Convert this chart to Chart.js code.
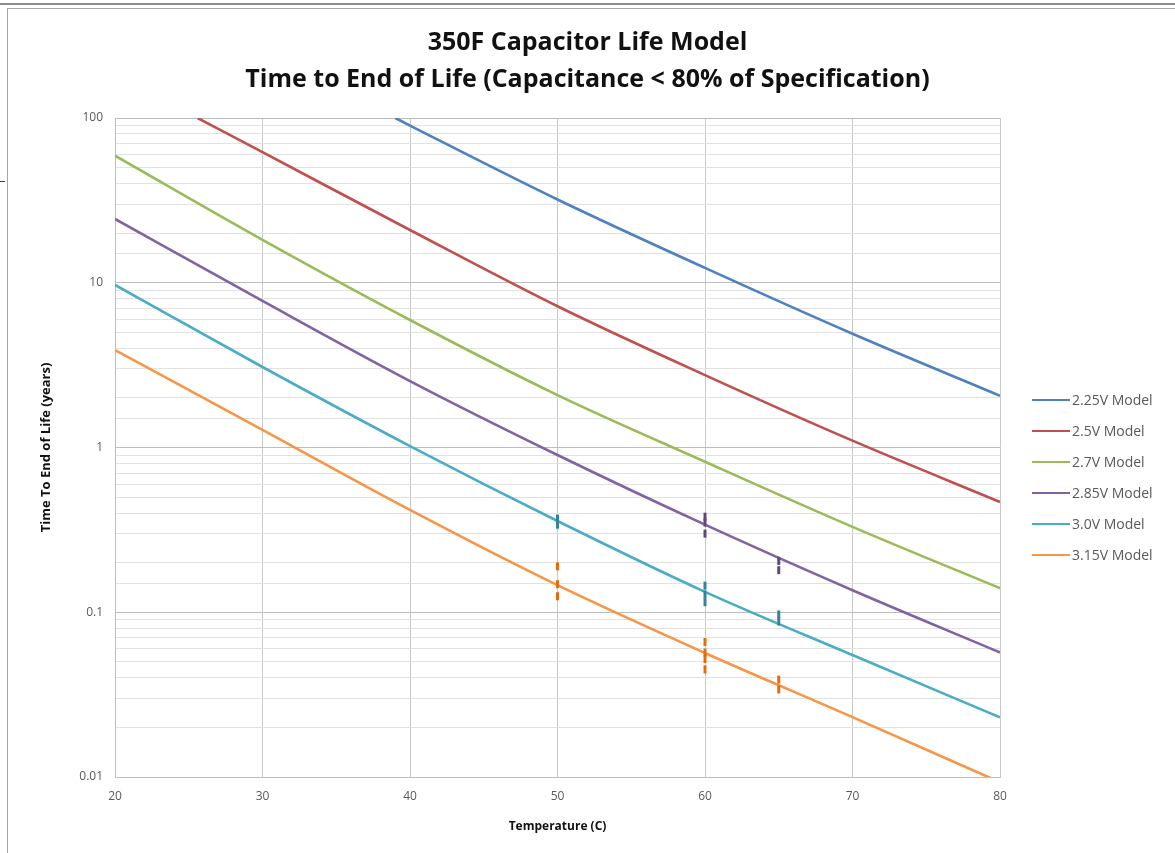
<!DOCTYPE html>
<html>
<head>
<meta charset="utf-8">
<title>350F Capacitor Life Model</title>
<script src="https://cdn.jsdelivr.net/npm/chart.js@4.4.1/dist/chart.umd.min.js"></script>
<style>
body { margin: 0; background: #fff; font-family: "Open Sans", sans-serif; }
#wrap { position: relative; width: 1175px; height: 853px; overflow: hidden; background: #fff; }
#frameTop { position: absolute; left: 0; top: 3px; width: 1175px; height: 2px; background: #8c8c8c; }
#frame { position: absolute; left: 7px; top: 8px; width: 1200px; height: 900px; border-left: 1px solid #a6a6a6; border-top: 1px solid #a6a6a6; }
#mark { position: absolute; left: 0; top: 181px; width: 5px; height: 1px; background: #444; }
#chartBox { position: absolute; left: 0; top: 0; width: 1175px; height: 853px; }
#legend { position: absolute; left: 1032px; top: 384px; font-size: 14px; color: #595959; }
.item { height: 31px; display: flex; align-items: center; white-space: nowrap; }
.swatch { width: 38px; height: 2px; margin-right: 2px; }
</style>
</head>
<body>
<div id="wrap">
  <div id="frameTop"></div>
  <div id="frame"></div>
  <div id="mark"></div>
  <div id="chartBox"><canvas id="lifeChart"></canvas></div>
  <div id="legend"></div>
</div>
<script>
// Model curves (temperature C -> years)
const temps225 = [39, 40, 50, 60, 70, 80];
const life225  = [100, 90, 32, 12.3, 4.9, 2.06];

const temps25 = [25.6, 30, 40, 50, 60, 70, 80];
const life25  = [100, 62, 20.9, 7.2, 2.75, 1.1, 0.467];

const temps = [20, 30, 40, 50, 60, 70, 80];
const life27  = [59, 18.2, 5.94, 2.08, 0.82, 0.33, 0.14];
const life285 = [24.4, 7.75, 2.53, 0.9, 0.34, 0.136, 0.057];
const life30  = [9.7, 3.08, 1.02, 0.358, 0.133, 0.055, 0.023];
const life315 = [3.9, 1.28, 0.418, 0.146, 0.0566, 0.0231, 0.0093];

// Test data marks
const test30Temps = [50, 50, 60, 60, 60, 65, 65];
const test30Life  = [0.37, 0.34, 0.145, 0.128, 0.115, 0.097, 0.088];
const test285Temps = [60, 60, 60, 65, 65];
const test285Life  = [0.38, 0.35, 0.30, 0.205, 0.18];
const test315Temps = [50, 50, 50, 60, 60, 60, 60, 65, 65];
const test315Life  = [0.19, 0.148, 0.125, 0.066, 0.057, 0.052, 0.045, 0.039, 0.034];

const modelNames = ["2.25V Model", "2.5V Model", "2.7V Model", "2.85V Model", "3.0V Model", "3.15V Model"];
const modelColors = ["#4f81bd", "#c0504d", "#9bbb59", "#8064a2", "#4bacc6", "#f79646"];

const xTicks = [20, 30, 40, 50, 60, 70, 80];

function pts(xs, ys) {
    return xs.map((x, i) => ({ x: x, y: ys[i] }));
}

function isDecade(v) {
    const l = Math.log10(v);
    return Math.abs(l - Math.round(l)) < 1e-6;
}

const modelData = [
    pts(temps225, life225),
    pts(temps25, life25),
    pts(temps, life27),
    pts(temps, life285),
    pts(temps, life30),
    pts(temps, life315)
];

const datasets = modelData.map((d, i) => ({
    label: modelNames[i],
    data: d,
    showLine: true,
    borderColor: modelColors[i],
    backgroundColor: modelColors[i],
    borderWidth: 2.6,
    pointRadius: 0,
    cubicInterpolationMode: "monotone",
    order: 1
}));

function marks(xs, ys, color) {
    return {
        label: "test",
        data: pts(xs, ys),
        showLine: false,
        pointStyle: "line",
        rotation: 90,
        pointRadius: 4,
        borderWidth: 3,
        borderColor: color,
        backgroundColor: color,
        order: 0
    };
}

datasets.push(marks(test30Temps, test30Life, "#31849b"));
datasets.push(marks(test285Temps, test285Life, "#5f497a"));
datasets.push(marks(test315Temps, test315Life, "#e46c0a"));

new Chart(document.getElementById("lifeChart"), {
    type: "scatter",
    data: { datasets },
    options: {
        responsive: true,
        maintainAspectRatio: false,
        animation: false,
        layout: { padding: 0 },
        plugins: {
            legend: { display: false },
            tooltip: { enabled: false },
            title: {
                display: true,
                text: ["350F Capacitor Life Model", "Time to End of Life (Capacitance < 80% of Specification)"],
                color: "#111",
                font: { family: "Open Sans", size: 25, weight: "bold", lineHeight: 37 / 25 },
                padding: { top: 24, bottom: 20 }
            }
        },
        scales: {
            x: {
                type: "linear",
                min: 20,
                max: 80,
                afterBuildTicks: (scale) => { scale.ticks = xTicks.map(v => ({ value: v })); },
                afterFit: (scale) => { scale.height = 76; },
                border: { color: "#bfbfbf" },
                grid: { color: "#c8c8c8", drawTicks: false },
                ticks: {
                    color: "#595959",
                    font: { family: "Open Sans", size: 12 },
                    padding: 12
                },
                title: {
                    display: true,
                    text: "Temperature (C)",
                    color: "#111",
                    font: { family: "Open Sans", size: 12, weight: "bold" },
                    padding: { top: 0, bottom: 19 }
                }
            },
            y: {
                type: "logarithmic",
                min: 0.01,
                max: 100,
                afterFit: (scale) => { scale.width = 115; },
                border: { color: "#bfbfbf" },
                grid: {
                    drawTicks: false,
                    color: (ctx) => (ctx.tick && isDecade(ctx.tick.value)) ? "#bdbdbd" : "#e2e2e2"
                },
                ticks: {
                    autoSkip: false,
                    color: "#595959",
                    font: { family: "Open Sans", size: 12 },
                    padding: 12,
                    callback: (v) => isDecade(v) ? String(Number(v.toPrecision(3))) : ""
                },
                title: {
                    display: true,
                    text: "Time To End of Life (years)",
                    color: "#111",
                    font: { family: "Open Sans", size: 13, weight: "bold" },
                    padding: { top: 38, bottom: 0 }
                }
            },
            // empty right-hand space that holds the legend
            side: {
                type: "linear",
                position: "right",
                afterFit: (scale) => { scale.width = 175; },
                grid: { display: false },
                border: { display: false },
                ticks: { display: false }
            }
        }
    }
});

// legend for the model lines
const legendBox = document.getElementById("legend");
modelNames.forEach((name, i) => {
    const row = document.createElement("div");
    row.className = "item";
    row.innerHTML = '<span class="swatch" style="background:' + modelColors[i] + '"></span>' + name;
    legendBox.appendChild(row);
});
</script>
</body>
</html>
